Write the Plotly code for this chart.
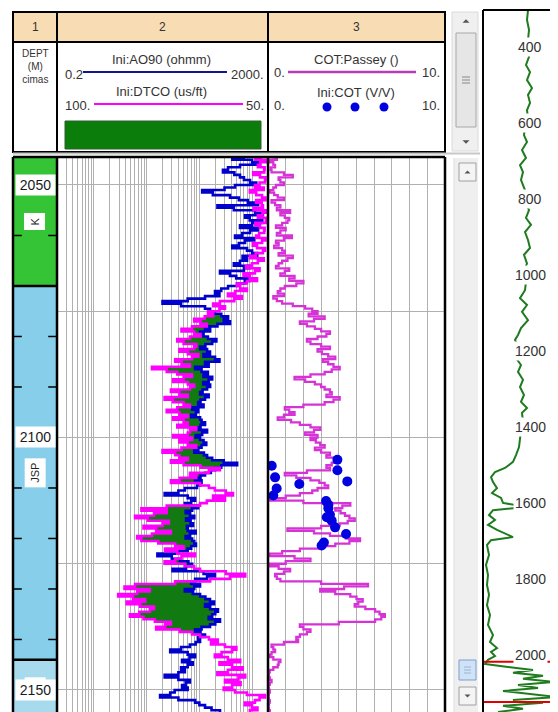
import math
import plotly.graph_objects as go

W, H = 558, 712          # browser window
OX, OY = 8, 8            # default page margin of the html body
FW, FH = W - OX, H - OY  # figure size so that it ends at the window edge

# ---------------------------------------------------------------- data
TRACK_NUMBERS = ["1", "2", "3"]

# log sampling (as in a LAS header: STRT / STEP)
DEPTH_START = 2044.5
DEPTH_STEP = 0.5

# Ini:AO90 (ohmm)
AO90 = [
    733, 420, 1000, 1400, 589, 350, 280, 460, 589, 700,
    912, 1200, 474, 300, 113, 180, 381, 560, 830, 1300,
    220, 450, 1135, 1600, 733, 900, 1560, 1000, 589, 1300,
    912, 650, 474, 1100, 733, 560, 420, 800, 1000, 1250,
    660, 800, 589, 450, 912, 700, 246, 380, 500, 900,
    733, 520, 350, 260, 198, 240, 128, 60, 20, 45,
    128, 160, 198, 260, 350, 290, 381, 220, 128, 160,
    103, 120, 145, 210, 175, 130, 103, 140, 159, 120,
    198, 240, 128, 150, 83, 110, 145, 120, 175, 150,
    118, 160, 140, 115, 103, 150, 128, 105, 95, 120,
    73, 95, 86, 70, 103, 110, 128, 105, 95, 140,
    113, 85, 103, 120, 135, 110, 95, 80, 122, 140,
    175, 290, 520, 260, 198, 165, 128, 105, 83, 110,
    103, 90, 53, 40, 22, 60, 83, 70, 53, 95,
    73, 55, 66, 80, 56, 68, 76, 58, 60, 85,
    66, 55, 73, 80, 86, 70, 60, 40, 16, 30,
    43, 62, 73, 55, 31, 120, 198, 140, 83, 70,
    103, 80, 53, 75, 103, 130, 159, 190, 128, 160,
    225, 200, 175, 150, 246, 200, 159, 110, 83, 105,
    128, 95, 103, 85, 66, 45, 28, 60, 83, 65,
    47, 75, 60, 45, 53, 40, 22, 40, 66, 55,
    47, 60, 34, 28, 18, 40, 83, 100, 128, 170,
    246,
]

# Ini:DTCO (us/ft)
DTCO = [
    51.4, 53.0, 50.5, 51.8, 52.4, 50.8, 50.9, 53.5, 51.9, 50.6,
    50.7, 52.0, 53.1, 51.0, 54.3, 52.8, 51.4, 50.6, 52.8, 51.5,
    51.2, 53.4, 50.2, 51.3, 52.4, 50.4, 50.5, 53.0, 51.9, 50.8,
    50.9, 52.1, 52.8, 50.6, 51.4, 53.6, 52.6, 50.7, 51.2, 52.9,
    54.3, 51.0, 52.4, 53.8, 55.2, 52.0, 53.1, 55.8, 54.3, 52.6,
    55.0, 57.4, 56.6, 55.0, 57.8, 59.5, 56.2, 58.0, 61.4, 63.0,
    60.2, 61.5, 64.2, 63.0, 65.0, 67.5, 66.0, 64.5, 68.0, 70.5,
    67.5, 66.0, 68.5, 71.5, 70.0, 67.0, 67.5, 71.0, 69.0, 66.5,
    68.0, 72.0, 70.5, 68.5, 77.5, 74.0, 71.5, 68.0, 70.0, 72.5,
    69.0, 67.5, 68.5, 73.0, 71.0, 69.0, 74.5, 72.5, 70.0, 68.5,
    71.5, 74.0, 71.0, 69.0, 72.5, 70.0, 69.0, 71.5, 67.0, 68.5,
    69.0, 72.5, 68.0, 71.0, 69.0, 67.0, 70.5, 75.0, 72.0, 71.0,
    69.0, 73.0, 70.0, 66.0, 61.4, 64.0, 68.5, 67.0, 70.9, 73.0,
    66.1, 64.0, 62.6, 60.0, 58.3, 63.0, 60.2, 64.5, 66.1, 74.0,
    80.0, 74.0, 77.0, 81.5, 78.5, 73.5, 75.0, 79.5, 76.5, 73.0,
    77.5, 81.0, 80.0, 76.0, 72.0, 70.0, 74.4, 71.5, 67.3, 70.5,
    72.0, 74.5, 69.7, 67.5, 66.1, 60.0, 55.4, 59.0, 63.7, 72.0,
    81.5, 84.0, 78.0, 81.0, 85.5, 82.0, 79.1, 83.5, 80.3, 77.0,
    78.0, 80.5, 82.7, 79.5, 76.8, 73.0, 74.4, 76.5, 70.9, 68.0,
    66.1, 64.0, 61.9, 63.5, 60.2, 57.5, 58.5, 61.0, 62.6, 59.5,
    56.6, 61.5, 58.5, 56.0, 59.5, 62.0, 55.4, 57.0, 60.2, 56.5,
    58.5, 60.5, 57.8, 55.0, 50.7, 52.0, 53.1, 55.5, 53.8, 52.5,
    54.3,
]

# COT:Passey ()
COT_PASSEY = [
    0.2, 0.5, 0.1, 0.3, 0.4, 0.15, 0.2, 0.9, 1.4, 0.6,
    0.7, 0.9, 0.45, 0.3, 0.1, 0.35, 0.55, 0.9, 0.2, 0.4,
    0.7, 0.5, 1.25, 0.7, 0.95, 1.2, 1.1, 0.8, 0.45, 1.0,
    0.7, 0.5, 1.35, 0.9, 0.45, 0.6, 0.35, 0.8, 0.95, 0.6,
    1.4, 1.1, 0.8, 0.6, 0.45, 1.2, 0.95, 0.7, 1.5, 1.2,
    2.0, 1.6, 0.95, 0.7, 0.55, 0.9, 0.3, 0.5, 0.8, 1.4,
    2.1, 2.5, 2.8, 2.3, 3.2, 2.6, 1.8, 2.2, 2.65, 3.0,
    3.5, 3.3, 2.8, 2.2, 2.4, 3.0, 3.5, 2.8, 3.05, 3.4,
    3.8, 3.1, 3.4, 3.7, 4.05, 3.6, 3.2, 2.4, 1.5, 2.1,
    2.65, 3.0, 3.2, 3.5, 3.6, 3.3, 4.05, 3.7, 3.2, 2.0,
    0.95, 1.2, 1.5, 0.9, 0.55, 1.3, 1.8, 2.4, 2.95, 2.6,
    2.1, 2.8, 2.4, 2.7, 2.95, 3.2, 2.65, 3.0, 3.5, 3.3,
    3.8, 3.9, 3.6, 3.3, 3.5, 2.2, 0.95, 1.6, 2.4, 2.9,
    3.2, 3.4, 2.8, 2.5, 1.8, 1.0, 0.1, 2.0, 4.65, 4.2,
    3.8, 4.1, 4.35, 4.6, 4.9, 4.5, 4.05, 3.0, 1.1, 2.6,
    3.5, 4.4, 5.2, 4.6, 3.8, 2.9, 1.8, 0.8, 0.1, 1.5,
    2.4, 1.0, 0.1, 0.6, 1.25, 0.9, 0.4, 0.5, 0.7, 3.0,
    5.65, 4.3, 2.95, 3.8, 4.65, 5.0, 5.35, 5.1, 4.9, 5.5,
    6.05, 6.3, 6.6, 6.4, 6.05, 4.0, 1.8, 2.0, 2.4, 2.2,
    1.8, 1.6, 1.7, 0.9, 0.2, 0.3, 0.4, 0.2, 0.1, 0.3,
    0.7, 0.6, 0.55, 0.3, 0.1, 0.05, 0.05, 0.1, 0.2, 0.1,
    0.0, 0.05, 0.1, 0.05, 0.0, 0.05, 0.1, 0.05, 0.0, 0.05,
    0.1,
]

# Ini:COT (V/V) core points
CORE_DEPTH = [2104.4, 2105.6, 2106.5, 2107.9, 2108.7, 2109.2, 2110.1, 2111.5,
              2112.6, 2113.3, 2114.0, 2115.3, 2115.8, 2116.5, 2117.8, 2119.1,
              2120.8, 2121.4]
CORE_COT = [3.92, 0.21, 3.92, 0.40, 4.48, 1.77, 0.49, 0.30,
            3.28, 3.41, 3.41, 3.50, 3.32, 3.60, 3.79, 4.41,
            3.16, 3.03]

# formation tops (depth track)
ZONE_NAMES = ["K", "JSP", "C"]
ZONE_TOP = [2030.0, 2070.0, 2144.0]
ZONE_BASE = [2070.0, 2144.0, 2170.0]
DEPTH_LABELS = [2050, 2100, 2150]
DEPTH_TICKS = [2060, 2080, 2090, 2110, 2120, 2130, 2140]

# overview (whole well) curve
OV_DEPTH = [303, 329, 355, 382, 404, 426, 447, 466, 487, 508, 526, 547, 566, 588,
            610, 632, 650, 671, 692, 711, 729, 750, 770, 790, 810, 829, 850, 868,
            887, 908, 929, 947, 970, 995, 1018, 1040, 1061, 1079, 1097, 1119, 1140,
            1158, 1171, 1195, 1219, 1237, 1255, 1276, 1295, 1316, 1334, 1350, 1363,
            1385, 1410, 1432, 1453, 1474, 1492, 1508, 1519, 1532, 1545, 1561, 1574,
            1587, 1600, 1611, 1619, 1632, 1645, 1658, 1671, 1690, 1698, 1711, 1737,
            1763, 1790, 1816, 1842, 1869, 1895, 1921, 1948, 1966, 1982, 1992, 2003,
            2013, 2024, 2032, 2040, 2047, 2055, 2063, 2071, 2079, 2087, 2095, 2103,
            2111, 2119, 2126, 2134, 2142, 2150]
OV_GR = [45, 44, 46, 45, 47, 46, 43, 47, 44, 49, 45, 47, 44, 45,
         42, 41, 44, 39, 43, 37, 40, 38, 41, 44, 43, 46, 43, 48,
         42, 45, 47, 41, 44, 40, 43, 42, 37, 44, 39, 45, 38,
         35, 32, 36, 33, 38, 35, 40, 37, 41, 38, 44, 39,
         40, 38, 37, 36, 33, 30, 22, 12, 8, 10, 14, 9,
         18, 20, 44, 10, 6, 12, 5, 14, 30, 8, 4, 6,
         3, 5, 4, 6, 4, 7, 5, 10, 7, 14, 8, 12,
         5, 2, 25, 50, 30, 60, 40, 70, 35, 55, 20, 45,
         75, 30, 60, 20, 40, 15]
OV_TICKS = [400, 600, 800, 1000, 1200, 1400, 1600, 1800, 2000]
OV_WINDOW = [2018, 2124]

# ---------------------------------------------------------------- scales
DEPTH = [DEPTH_START + DEPTH_STEP * i for i in range(len(AO90))]
VIEW_TOP, VIEW_BASE = 2044.46, 2154.36
OV_TOP, OV_BASE = 302.6, 2150.3
AO_MIN, AO_MAX = 0.2, 2000.0
DT_LEFT, DT_RIGHT = 100.0, 50.0


def px(x):
    return (x - OX) / FW


def py(y):
    return 1 - (y - OY) / FH


def dt_on_ao_scale(dt):
    frac = (DT_LEFT - dt) / (DT_LEFT - DT_RIGHT)
    return AO_MIN * (AO_MAX / AO_MIN) ** frac


dt_eq = [dt_on_ao_scale(v) for v in DTCO]
fill_right = [max(a, e) for a, e in zip(AO90, dt_eq)]

FONT = "Liberation Sans, Arial, sans-serif"
BLUE = "#0000CD"
MAGENTA = "#FF00FF"
PURPLE = "#D633D6"
FILL_GREEN = "#117A11"
GRID = "#B0B0B0"
SHAPE = "hv"

fig = go.Figure()

# green crossover shading (between DTCO and AO90 where AO90 lies right)
fig.add_trace(go.Scatter(x=dt_eq, y=DEPTH, xaxis="x2", yaxis="y2", mode="lines",
                         line=dict(width=0, shape=SHAPE), hoverinfo="skip"))
fig.add_trace(go.Scatter(x=fill_right, y=DEPTH, xaxis="x2", yaxis="y2", mode="lines",
                         line=dict(width=0, shape=SHAPE), fill="tonextx",
                         fillcolor=FILL_GREEN, hoverinfo="skip"))
fig.add_trace(go.Scatter(x=AO90, y=DEPTH, xaxis="x2", yaxis="y2", mode="lines",
                         line=dict(color=BLUE, width=2.6, shape=SHAPE), name="Ini:AO90"))
fig.add_trace(go.Scatter(x=DTCO, y=DEPTH, xaxis="x5", yaxis="y2", mode="lines",
                         line=dict(color=MAGENTA, width=2.6, shape=SHAPE), name="Ini:DTCO"))
fig.add_trace(go.Scatter(x=COT_PASSEY, y=DEPTH, xaxis="x3", yaxis="y3", mode="lines",
                         line=dict(color=PURPLE, width=2.3, shape=SHAPE), name="COT:Passey"))
fig.add_trace(go.Scatter(x=CORE_COT, y=CORE_DEPTH, xaxis="x3", yaxis="y3", mode="markers",
                         marker=dict(color="#0000E0", size=10, line=dict(width=0)),
                         name="Ini:COT"))
fig.add_trace(go.Scatter(x=OV_GR, y=OV_DEPTH, xaxis="x4", yaxis="y4", mode="lines",
                         line=dict(color="#1E7B1E", width=2), name="overview"))

shapes = []
annotations = []


def rect(x0, y0, x1, y1, fill=None, line=None, lw=1):
    shapes.append(dict(type="rect", xref="paper", yref="paper",
                       x0=px(x0), x1=px(x1), y0=py(y1), y1=py(y0),
                       fillcolor=fill if fill else "rgba(0,0,0,0)",
                       line=dict(color=line if line else "rgba(0,0,0,0)",
                                 width=lw if line else 0),
                       layer="above"))


def seg(x0, y0, x1, y1, color="black", lw=2):
    shapes.append(dict(type="line", xref="paper", yref="paper",
                       x0=px(x0), x1=px(x1), y0=py(y0), y1=py(y1),
                       line=dict(color=color, width=lw), layer="above"))


def tri(cx, cy, up=True, size=3.5, color="#555555"):
    s = size
    if up:
        pts = [(cx - s, cy + s / 2), (cx + s, cy + s / 2), (cx, cy - s / 2)]
    else:
        pts = [(cx - s, cy - s / 2), (cx + s, cy - s / 2), (cx, cy + s / 2)]
    path = "M " + " L ".join(f"{px(a):.5f},{py(b):.5f}" for a, b in pts) + " Z"
    shapes.append(dict(type="path", xref="paper", yref="paper", path=path,
                       fillcolor=color, line=dict(width=0), layer="above"))


def text(x, y, s, size=13, xanchor="center", color="#333333"):
    annotations.append(dict(xref="paper", yref="paper", x=px(x), y=py(y), text=s,
                            showarrow=False, xanchor=xanchor, yanchor="middle",
                            font=dict(family=FONT, size=size, color=color)))


# ---------------------------------------------------------------- header
rect(13, 12, 445, 42, fill="#F8DCB4")
rect(13, 12, 445, 152, line="black", lw=2)
seg(13, 42, 445, 42)
seg(57, 12, 57, 152)
seg(268, 12, 268, 152)
for label, cx in zip(TRACK_NUMBERS, [35, 162, 356]):
    text(cx, 27, label, size=12)

text(35, 66, "DEPT<br>(M)<br>cimas", size=10)

text(161, 60, "Ini:AO90 (ohmm)", size=13)
text(63, 74, "0.2", size=13, xanchor="left")
seg(83, 72, 227, 72, color="#16168C", lw=2)
text(266, 74, "2000.", size=13, xanchor="right")
text(161, 91, "Ini:DTCO (us/ft)", size=13)
text(63, 105, "100.", size=13, xanchor="left")
seg(94, 104, 243, 104, color=MAGENTA, lw=2)
text(266, 105, "50.", size=13, xanchor="right")
rect(65, 121, 261, 149, fill="#0B7D0B", line="#2F5F2F", lw=1)

text(356, 59, "COT:Passey ()", size=13)
text(272, 73, "0.", size=13, xanchor="left")
seg(288, 72, 416, 72, color="#B43CB4", lw=2.5)
text(442, 73, "10.", size=13, xanchor="right")
text(356, 92, "Ini:COT (V/V)", size=13)
text(272, 106, "0.", size=13, xanchor="left")
for cx in [327, 355, 384]:
    shapes.append(dict(type="circle", xref="paper", yref="paper",
                       x0=px(cx - 4.5), x1=px(cx + 4.5), y0=py(111.5), y1=py(102.5),
                       fillcolor="#0000E0", line=dict(width=0), layer="above"))
text(442, 106, "10.", size=13, xanchor="right")

seg(13, 153.5, 480, 153.5, color="#C8C8C8", lw=2)

# header scrollbar
rect(452, 12, 478, 151, fill="#F0F0F0", line="#DADADA", lw=1)
tri(466, 21, up=True)
rect(456, 33, 476, 127, fill="#E6E6E6", line="#A8A8A8", lw=1)
for gy in [77, 80, 83]:
    seg(462, gy, 470, gy, color="#888888", lw=1)
tri(466, 142, up=False)

# ---------------------------------------------------------------- depth track
zone_colors = ["#35C435", "#87CEEB", "#A8DAEE"]
for name, top, base, col in zip(ZONE_NAMES, ZONE_TOP, ZONE_BASE, zone_colors):
    t = max(top, VIEW_TOP)
    b = min(base, VIEW_BASE)
    shapes.append(dict(type="rect", xref="x", yref="y", x0=0, x1=1, y0=t, y1=b,
                       fillcolor=col, line=dict(width=0), layer="above"))
for d in DEPTH_TICKS:
    for a, b in [(0, 0.2), (0.8, 1)]:
        shapes.append(dict(type="line", xref="x", yref="y", x0=a, x1=b, y0=d, y1=d,
                           line=dict(color="black", width=1.5), layer="above"))
for top in ZONE_TOP:
    if VIEW_TOP < top < VIEW_BASE:
        shapes.append(dict(type="line", xref="x", yref="y", x0=0, x1=1, y0=top, y1=top,
                           line=dict(color="black", width=2.5), layer="above"))
for name, top, base in zip(ZONE_NAMES, ZONE_TOP, ZONE_BASE):
    t = max(top, VIEW_TOP)
    b = min(base, VIEW_BASE)
    annotations.append(dict(xref="x", yref="y", x=0.5, y=(t + b) / 2, text=name,
                            textangle=-90, showarrow=False, bgcolor="white",
                            borderpad=4, xanchor="center", yanchor="middle",
                            font=dict(family=FONT, size=11, color="#222222")))
for d in DEPTH_LABELS:
    annotations.append(dict(xref="x", yref="y", x=0.5, y=d, text=str(d),
                            showarrow=False, bgcolor="white", width=37, height=18,
                            xanchor="center", yanchor="middle",
                            font=dict(family=FONT, size=14, color="#1A1A1A")))

# main track frame
seg(13, 157, 445, 157, lw=2.5)
for xv in [13, 57, 268, 445]:
    seg(xv, 157, xv, 712, lw=2.5)

# main scrollbar
rect(454, 158, 478, 712, fill="#EFEFEF", line=None)
seg(454, 158, 454, 712, color="#DDDDDD", lw=1)
rect(459, 163, 476, 181, fill="#F4F4F4", line="#A0A0A0", lw=1)
tri(467.5, 172, up=True, size=3)
rect(459, 660, 476, 680, fill="#CFE2F6", line="#7C9FCB", lw=1)
for gy in [667, 670, 673]:
    seg(464, gy, 471, gy, color="#9AB4D6", lw=1)
rect(459, 687, 476, 705, fill="#F4F4F4", line="#A0A0A0", lw=1)
tri(467.5, 696, up=False, size=3)

# ---------------------------------------------------------------- overview panel
for d in OV_WINDOW:
    shapes.append(dict(type="line", xref="paper", yref="y4", x0=px(483), x1=1,
                       y0=d, y1=d, line=dict(color="#E00000", width=2), layer="above"))
seg(483, 10, 483, 712, lw=2)
seg(483, 10, 558, 10, lw=2)
for t in OV_TICKS:
    annotations.append(dict(xref="paper", yref="y4", x=px(530), y=t, text=str(t),
                            showarrow=False, bgcolor="white", borderpad=1,
                            xanchor="center", yanchor="middle",
                            font=dict(family=FONT, size=14, color="#333333")))

# ---------------------------------------------------------------- layout
main_dom = [0, py(157)]
fig.update_layout(
    width=FW, height=FH, margin=dict(l=0, r=0, t=0, b=0),
    paper_bgcolor="white", plot_bgcolor="white", showlegend=False,
    xaxis=dict(domain=[px(13), px(57)], range=[0, 1], visible=False, anchor="y"),
    yaxis=dict(domain=main_dom, range=[VIEW_BASE, VIEW_TOP], visible=False, anchor="x"),
    xaxis2=dict(domain=[px(57), px(268)], type="log",
                range=[math.log10(AO_MIN), math.log10(AO_MAX)], dtick="D1",
                showgrid=True, gridcolor=GRID, gridwidth=1, showticklabels=False,
                ticks="", zeroline=False, showline=False, anchor="y2"),
    xaxis5=dict(overlaying="x2", range=[DT_LEFT, DT_RIGHT], visible=False, anchor="y2"),
    yaxis2=dict(domain=main_dom, range=[VIEW_BASE, VIEW_TOP], tick0=2050, dtick=25,
                showgrid=True, gridcolor=GRID, showticklabels=False, ticks="",
                zeroline=False, showline=False, anchor="x2"),
    xaxis3=dict(domain=[px(268), px(445)], range=[0, 10], dtick=1, showgrid=True,
                gridcolor=GRID, showticklabels=False, ticks="", zeroline=False,
                showline=False, anchor="y3"),
    yaxis3=dict(domain=main_dom, range=[VIEW_BASE, VIEW_TOP], tick0=2050, dtick=25,
                showgrid=True, gridcolor=GRID, showticklabels=False, ticks="",
                zeroline=False, showline=False, anchor="x3"),
    xaxis4=dict(domain=[px(483), 1], range=[0, 75], visible=False, anchor="y4"),
    yaxis4=dict(domain=[0, py(10)], range=[OV_BASE, OV_TOP], visible=False, anchor="x4"),
    shapes=shapes, annotations=annotations,
)

fig.write_html("out.html")
